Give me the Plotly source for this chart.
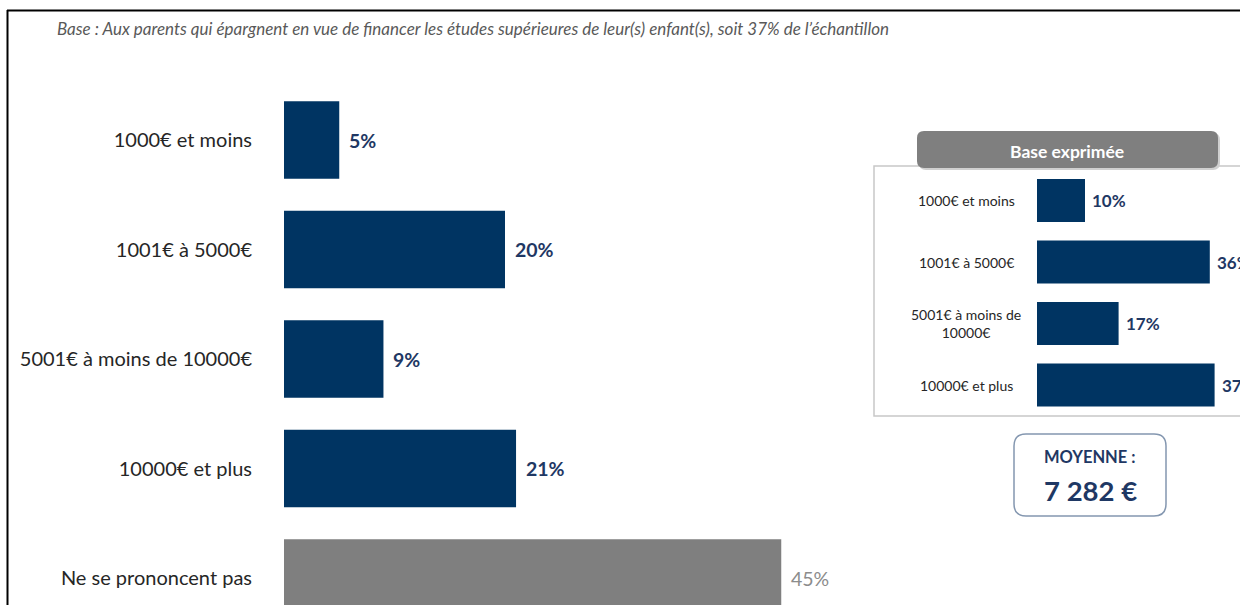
import plotly.graph_objects as go

W, H = 1240, 605

# ---- data ----
categories = ["1000€ et moins", "1001€ à 5000€", "5001€ à moins de 10000€",
              "10000€ et plus", "Ne se prononcent pas"]
values = [5, 20, 9, 21, 45]

base_categories = ["1000€ et moins", "1001€ à 5000€", "5001€ à moins de<br>10000€",
                   "10000€ et plus"]
base_values = [10, 36, 17, 37]

panel_title = "Base exprimée"
moyenne_label = "MOYENNE :"
moyenne_value = "7 282 €"
subtitle = ("Base : Aux parents qui épargnent en vue de financer les études supérieures "
            "de leur(s) enfant(s), soit 37% de l’échantillon")

NAVY = "#003462"
GREY = "#7f7f7f"
TXT_BLUE = "#1f3864"
FONT = "Lato"

def px(x):
    return x / W

def py(y):
    return 1 - y / H

def rrect(x0, y0, x1, y1, r):
    pts = [
        f"M {px(x0 + r)},{py(y0)}",
        f"L {px(x1 - r)},{py(y0)}",
        f"Q {px(x1)},{py(y0)} {px(x1)},{py(y0 + r)}",
        f"L {px(x1)},{py(y1 - r)}",
        f"Q {px(x1)},{py(y1)} {px(x1 - r)},{py(y1)}",
        f"L {px(x0 + r)},{py(y1)}",
        f"Q {px(x0)},{py(y1)} {px(x0)},{py(y1 - r)}",
        f"L {px(x0)},{py(y0 + r)}",
        f"Q {px(x0)},{py(y0)} {px(x0 + r)},{py(y0)}",
        "Z",
    ]
    return " ".join(pts)

bar_colors = [NAVY] * (len(values) - 1) + [GREY]
label_colors = [TXT_BLUE] * (len(values) - 1) + ["#8c8c8c"]

fig = go.Figure()

fig.add_trace(go.Bar(
    x=values, y=categories, orientation="h",
    marker=dict(color=bar_colors, line=dict(width=0)),
    width=0.71, xaxis="x", yaxis="y", showlegend=False, hoverinfo="skip",
))

fig.add_trace(go.Bar(
    x=base_values, y=list(range(len(base_values))), orientation="h",
    marker=dict(color=NAVY, line=dict(width=0)),
    width=0.7, xaxis="x2", yaxis="y2", showlegend=False, hoverinfo="skip",
))

annotations = []
for c, v, col in zip(categories, values, label_colors):
    annotations.append(dict(
        x=v, y=c, xref="x", yref="y", text=f"<b>{v}%</b>" if col == TXT_BLUE else f"{v}%",
        showarrow=False, xanchor="left", yanchor="middle", xshift=8,
        font=dict(family=FONT, size=19.5, color=col),
    ))

for i, (c, v) in enumerate(zip(base_categories, base_values)):
    annotations.append(dict(
        x=v, y=i, xref="x2", yref="y2", text=f"<b>{v}%</b>",
        showarrow=False, xanchor="left", yanchor="middle", xshift=5,
        font=dict(family=FONT, size=17, color=TXT_BLUE),
    ))
    annotations.append(dict(
        x=px(966), y=i, xref="paper", yref="y2", text=c,
        showarrow=False, xanchor="center", yanchor="middle", align="center",
        font=dict(family=FONT, size=14, color="#262626"),
    ))

annotations += [
    dict(x=px(55), y=py(29), xref="paper", yref="paper", text=f"<i>{subtitle}</i>",
         showarrow=False, xanchor="left", yanchor="middle",
         font=dict(family=FONT, size=17, color="#595959")),
    dict(x=px(1067), y=py(151), xref="paper", yref="paper", text=f"<b>{panel_title}</b>",
         showarrow=False, xanchor="center", yanchor="middle",
         font=dict(family=FONT, size=17.5, color="white")),
    dict(x=px(1090), y=py(457), xref="paper", yref="paper", text=f"<b>{moyenne_label}</b>",
         showarrow=False, xanchor="center", yanchor="middle",
         font=dict(family=FONT, size=16.5, color=TXT_BLUE)),
    dict(x=px(1090), y=py(490), xref="paper", yref="paper", text=f"<b>{moyenne_value}</b>",
         showarrow=False, xanchor="center", yanchor="middle",
         font=dict(family=FONT, size=27.5, color=TXT_BLUE)),
]

shapes = [
    dict(type="line", xref="paper", yref="paper", x0=px(7), x1=1, y0=py(10.5), y1=py(10.5),
         line=dict(color="black", width=2)),
    dict(type="line", xref="paper", yref="paper", x0=px(7.5), x1=px(7.5), y0=py(10), y1=0,
         line=dict(color="black", width=2)),
    dict(type="rect", xref="paper", yref="paper", x0=px(874), x1=px(1242), y0=py(416), y1=py(166),
         line=dict(color="#c8c8c8", width=1.5), fillcolor="rgba(0,0,0,0)", layer="below"),
    dict(type="path", xref="paper", yref="paper", path=rrect(919, 133, 1220, 170, 7),
         fillcolor="#d0d0d0", line=dict(width=0), layer="above"),
    dict(type="path", xref="paper", yref="paper", path=rrect(917, 131, 1218, 168, 7),
         fillcolor=GREY, line=dict(width=0), layer="above"),
    dict(type="path", xref="paper", yref="paper", path=rrect(1014, 434, 1166, 516, 12),
         fillcolor="white", line=dict(color="#8497b0", width=1.5)),
]

main_y_range = [(H - 140) / 109.5, -140 / 109.5]
x_main_range = [0, (860 - 284) / 11.05]
x2_range = [0, (W - 1037) / 4.8]

fig.update_layout(
    width=W, height=H,
    margin=dict(l=0, r=0, t=0, b=0),
    paper_bgcolor="white", plot_bgcolor="white",
    font=dict(family=FONT),
    xaxis=dict(domain=[px(284), px(860)], range=x_main_range, visible=False, fixedrange=True),
    yaxis=dict(domain=[0, 1], range=main_y_range, type="category",
               categoryorder="array", categoryarray=categories,
               showgrid=False, zeroline=False, showline=False, ticks="", automargin=False,
               ticklabelstandoff=31,
               tickfont=dict(family=FONT, size=20, color="#262626")),
    xaxis2=dict(domain=[px(1037), 1], range=x2_range, visible=False, anchor="y2"),
    yaxis2=dict(domain=[py(415.75), py(169.75)], range=[3.5, -0.5], visible=False, anchor="x2"),
    annotations=annotations,
    shapes=shapes,
)

fig.write_html("out.html", config={"displayModeBar": False},
               post_script="document.body.style.margin='0';document.body.style.overflow='hidden';")
